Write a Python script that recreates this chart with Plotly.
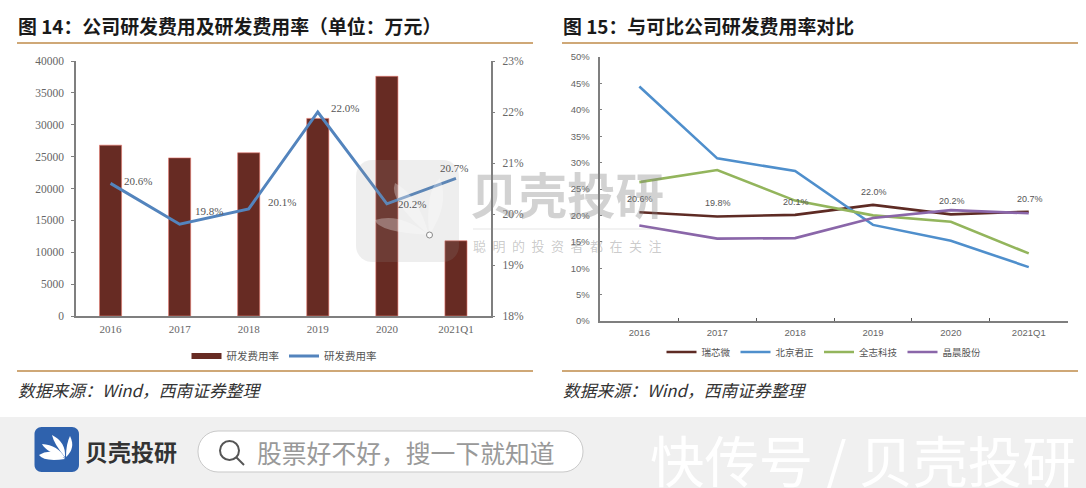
import plotly.graph_objects as go

W, H = 1086, 488
categories = ["2016", "2017", "2018", "2019", "2020", "2021Q1"]
rd_expense = [26800, 24800, 25600, 31000, 37600, 11800]
rd_rate = [20.6, 19.8, 20.1, 22.0, 20.2, 20.7]
rockchip = [20.6, 19.8, 20.1, 22.0, 20.2, 20.7]
ingenic = [44.4, 30.8, 28.4, 18.2, 15.2, 10.2]
allwinner = [26.3, 28.6, 22.8, 20.0, 18.8, 12.8]
amlogic = [18.1, 15.6, 15.7, 19.5, 21.0, 20.4]
left_ticks = [0, 5000, 10000, 15000, 20000, 25000, 30000, 35000, 40000]
rate_ticks = [18, 19, 20, 21, 22, 23]
right_ticks = [0, 5, 10, 15, 20, 25, 30, 35, 40, 45, 50]
left_label_shift = [(27, 2), (29, 13), (33, 7), (27, 4), (25, 0), (-2, 10)]

def px(x): return x / W
def py(y): return 1 - y / H
def P(x, y): return f"{px(x):.5f},{py(y):.5f}"

def rrect(x0, y0, x1, y1, r, **kw):
    k = r * 0.45
    d = (f"M{P(x0+r,y0)} L{P(x1-r,y0)} C{P(x1-k,y0)} {P(x1,y0+k)} {P(x1,y0+r)} "
         f"L{P(x1,y1-r)} C{P(x1,y1-k)} {P(x1-k,y1)} {P(x1-r,y1)} "
         f"L{P(x0+r,y1)} C{P(x0+k,y1)} {P(x0,y1-k)} {P(x0,y1-r)} "
         f"L{P(x0,y0+r)} C{P(x0,y0+k)} {P(x0+k,y0)} {P(x0+r,y0)} Z")
    return dict(type="path", path=d, xref="paper", yref="paper", **kw)

def rect(x0, y0, x1, y1, **kw):
    return dict(type="rect", x0=px(x0), x1=px(x1), y0=py(y0), y1=py(y1), xref="paper", yref="paper", **kw)

def hline(x0, x1, y, color, w):
    return dict(type="line", x0=px(x0), x1=px(x1), y0=py(y), y1=py(y), xref="paper", yref="paper",
                line=dict(color=color, width=w))

def note(x, y, text, size, color, font="Noto Sans CJK SC", anchor="left", **kw):
    return dict(x=px(x), y=py(y), xref="paper", yref="paper", text=text, showarrow=False,
                xanchor=anchor, yanchor="middle", font=dict(size=size, color=color, family=font), **kw)

def petal(pts, color="#ffffff"):
    d = f"M{P(*pts[0])} Q{P(*pts[1])} {P(*pts[2])} Q{P(*pts[3])} {P(*pts[0])} Z"
    return dict(type="path", path=d, xref="paper", yref="paper", fillcolor=color, line=dict(width=0))

fig = go.Figure()
fig.add_trace(go.Bar(x=categories, y=rd_expense, name="研发费用率", xaxis="x", yaxis="y",
                     marker=dict(color="#672b23", line=dict(color="rgba(232,120,110,0.6)", width=1)), width=0.32,
                     showlegend=False))
# legend key only: the reference draws the bar key as a wide flat swatch
fig.add_trace(go.Scatter(x=[None], y=[None], name="研发费用率", xaxis="x", yaxis="y", mode="lines",
                         line=dict(color="#672b23", width=6), legend="legend"))
fig.add_trace(go.Scatter(x=categories, y=rd_rate, name="研发费用率", xaxis="x", yaxis="y2", mode="lines",
                         line=dict(color="#5384bd", width=3), legend="legend"))
for name, vals, col in [("瑞芯微", rockchip, "#5e2b24"), ("北京君正", ingenic, "#4f8fcc"),
                        ("全志科技", allwinner, "#93b55c"), ("晶晨股份", amlogic, "#8a66a9")]:
    fig.add_trace(go.Scatter(x=categories, y=vals, name=name, xaxis="x3", yaxis="y3", mode="lines",
                             line=dict(color=col, width=2.6), legend="legend2"))

axis_col = "#7f7f7f"
serif = "Liberation Serif"
sans = "Liberation Sans"
tick_col = "#666666"
annotations = []
for i, (v, (dx, dy)) in enumerate(zip(rd_rate, left_label_shift)):
    annotations.append(dict(x=i, y=v, xref="x", yref="y2", text=f"{v:.1f}%", showarrow=False, xshift=dx, yshift=dy,
                            font=dict(size=11, color="#555555", family=serif)))
for i, v in enumerate(rockchip):
    annotations.append(dict(x=i, y=v, xref="x3", yref="y3", text=f"{v:.1f}%", showarrow=False, xshift=1, yshift=13,
                            font=dict(size=9, color="#555555", family=sans)))

annotations += [
    note(16, 25, "<b>图 14：公司研发费用及研发费用率（单位：万元）</b>", 18.9, "#1a1a1a"),
    note(561, 25, "<b>图 15：与可比公司研发费用率对比</b>", 18.9, "#1a1a1a"),
    note(16, 390, "<i>数据来源：Wind，西南证券整理</i>", 16.8, "#333333"),
    note(561, 390, "<i>数据来源：Wind，西南证券整理</i>", 16.8, "#333333"),
    note(83, 451, "<b>贝壳投研</b>", 23, "#333333"),
    note(255, 452, "股票好不好，搜一下就知道", 24.8, "#999999"),
    note(648, 458, "快传号 / 贝壳投研", 54.4, "#ffffff"),
    note(468, 193, "<b>贝壳投研</b>", 48.5, "rgba(130,130,130,0.36)"),
    note(471, 245, "聪\u2002明\u2002的\u2002投\u2002资\u2002者\u2002都\u2002在\u2002关\u2002注", 13, "rgba(130,130,130,0.42)"),
]

shapes = [
    hline(17, 533, 43, "#cfa877", 2), hline(562, 1078, 43, "#cfa877", 2),
    hline(17, 533, 371, "#cfa877", 2), hline(562, 1078, 371, "#cfa877", 2),
    rect(0, 417, W, H, fillcolor="#f0f0f0", line=dict(width=0), layer="below"),
    rrect(34.5, 427, 79, 472, 7, fillcolor="#2f62ad", line=dict(width=0)),
    petal([(65, 459), (44, 462), (39, 455), (52, 447)]),
    petal([(65, 458), (46, 452), (42, 444), (58, 445)]),
    petal([(65, 457), (54, 444), (52, 435), (66, 442)]),
    petal([(66, 457), (66, 444), (70, 436), (76, 448)]),
    rrect(198, 431, 583, 472, 20, fillcolor="#ffffff", line=dict(color="#c9c9c9", width=1)),
    dict(type="circle", x0=px(220), x1=px(239), y0=py(441), y1=py(460), xref="paper", yref="paper",
         line=dict(color="#555555", width=2)),
    dict(type="line", x0=px(236), x1=px(244), y0=py(457), y1=py(465), xref="paper", yref="paper",
         line=dict(color="#555555", width=2)),
    rrect(356, 160, 459, 262, 16, fillcolor="rgba(150,150,150,0.16)", line=dict(width=0)),
    petal([(429, 235), (378, 232), (375, 220), (400, 212)], "rgba(255,255,255,0.3)"),
    petal([(429, 235), (388, 200), (395, 183), (418, 195)], "rgba(255,255,255,0.3)"),
    petal([(429, 235), (425, 190), (440, 178), (450, 205)], "rgba(255,255,255,0.3)"),
    dict(type="circle", x0=px(426.5), x1=px(432.5), y0=py(232), y1=py(238), xref="paper", yref="paper",
         fillcolor="rgba(255,255,255,0.8)", line=dict(color="#888888", width=1)),
    hline(473, 665, 229, "rgba(150,150,150,0.25)", 1),
]

fig.update_layout(
    width=W, height=H, autosize=False, margin=dict(l=0, r=0, t=0, b=0, autoexpand=False),
    paper_bgcolor="#ffffff", plot_bgcolor="rgba(0,0,0,0)", showlegend=True, barmode="overlay",
    xaxis=dict(domain=[px(76), px(490.5)], anchor="y", type="category", categoryorder="array", categoryarray=categories,
               range=[-0.5, 5.5], tickangle=0, showgrid=False, showline=True, linecolor=axis_col, linewidth=1.5, ticks="",
               tickfont=dict(size=11, color=tick_col, family=serif), ticklabelstandoff=2),
    yaxis=dict(domain=[py(316), py(61)], anchor="x", range=[0, 40000], tickvals=left_ticks, tickformat="d", showgrid=False,
               zeroline=False, showline=True, linecolor=axis_col, linewidth=1.5, ticks="outside", ticklen=3,
               tickcolor=axis_col, tickfont=dict(size=11.5, color=tick_col, family=serif), ticklabelstandoff=5),
    yaxis2=dict(domain=[py(316), py(61)], anchor="x", overlaying="y", side="right", range=[18, 23], tickvals=rate_ticks,
                ticktext=[f"{t}%" for t in rate_ticks], showgrid=False, zeroline=False, showline=True,
                linecolor=axis_col, linewidth=1.5, ticks="outside", ticklen=3, tickcolor=axis_col,
                tickfont=dict(size=11.5, color=tick_col, family=serif), ticklabelstandoff=5),
    xaxis3=dict(domain=[px(600.4), px(1067.7)], anchor="y3", type="category", categoryorder="array", categoryarray=categories,
                range=[-0.5, 5.5], tickangle=0, showgrid=False, showline=True, linecolor=axis_col, linewidth=1.5, ticks="inside", ticklen=3,
                tickson="boundaries", tickcolor="#555555", tickfont=dict(size=9.5, color=tick_col, family=sans),
                ticklabelstandoff=2),
    yaxis3=dict(domain=[py(321), py(57)], anchor="x3", range=[0, 50], tickvals=right_ticks,
                ticktext=[f"{t}%" for t in right_ticks], showgrid=False, zeroline=False, showline=True,
                linecolor=axis_col, linewidth=1.5, ticks="inside", ticklen=2, tickcolor=axis_col,
                tickfont=dict(size=9.5, color=tick_col, family=sans), ticklabelstandoff=7),
    legend=dict(orientation="h", x=px(284), xanchor="center", y=py(356), yanchor="middle", bgcolor="rgba(0,0,0,0)",
                font=dict(size=10.5, color="#555555", family="Noto Sans CJK SC"), itemwidth=30),
    legend2=dict(orientation="h", x=px(824), xanchor="center", y=py(352), yanchor="middle", bgcolor="rgba(0,0,0,0)",
                 font=dict(size=9.5, color="#555555", family="Noto Sans CJK SC"), itemwidth=30),
    annotations=annotations, shapes=shapes,
)
fig.write_html("out.html", post_script="document.body.style.margin='0';", config=dict(displayModeBar=False))
